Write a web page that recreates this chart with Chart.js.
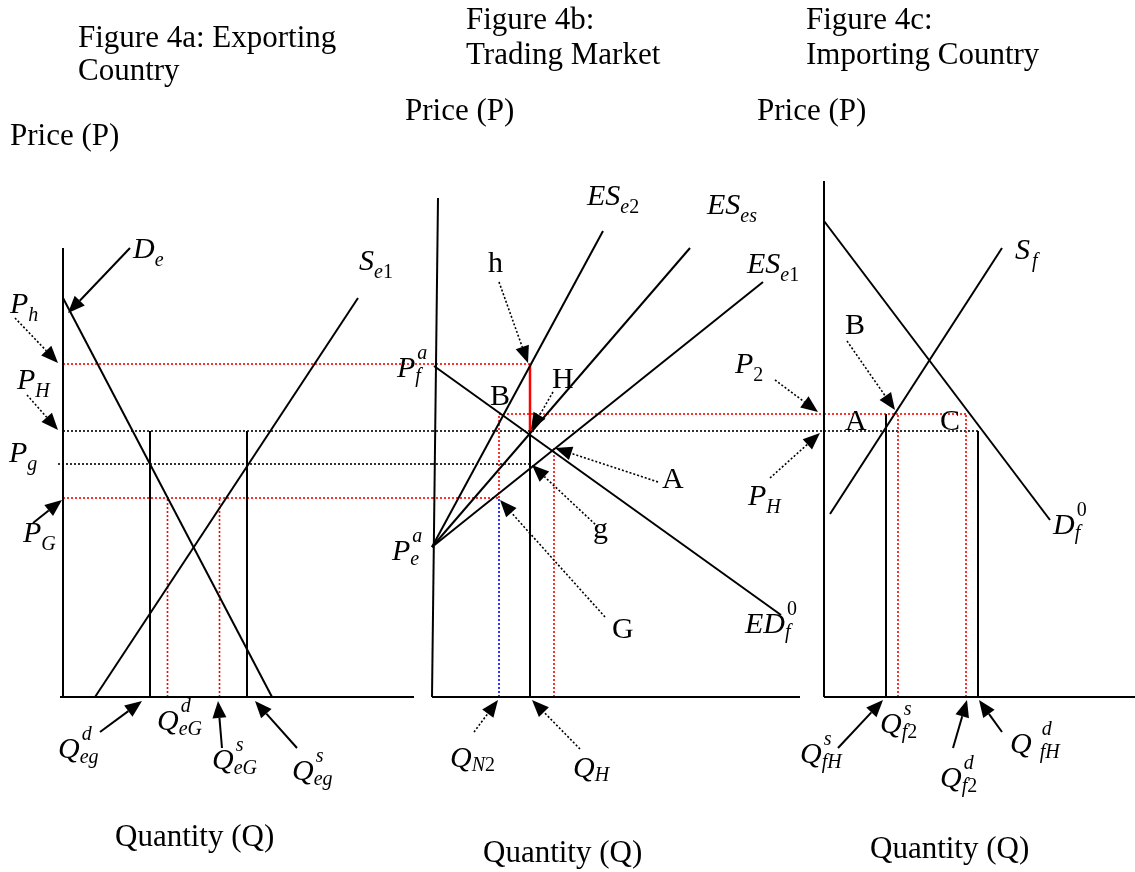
<!DOCTYPE html>
<html>
<head>
<meta charset="utf-8">
<script src="https://cdn.jsdelivr.net/npm/chart.js@4.4.1/dist/chart.umd.min.js"></script>
<style>
  html, body { margin: 0; padding: 0; background: #fff; }
  #wrap { position: relative; width: 1135px; height: 872px; }
  #wrap canvas { position: absolute; left: 0; top: 0; }
</style>
</head>
<body>
<div id="wrap">
  <canvas id="panelA" width="1135" height="872"></canvas>
  <canvas id="panelB" width="1135" height="872"></canvas>
  <canvas id="panelC" width="1135" height="872"></canvas>
</div>
<script>
// price levels, the price axis is shared by all three panels
var P_h = 66.6, P_2 = 56.6, P_H = 53.2, P_g = 46.6, P_G = 39.8, P_ea = 30;
var priceMax = 105;

// Figure 4a: exporting country
var axisA    = [70.2, 89.8];            // x axis length, y axis height
var demandE  = [[0, 79.8], [41.8, 0]];
var supplyE1 = [[6.4, 0], [59, 79.8]];
var qA_PH    = [17.4, 36.8];            // Q_eg^d, Q_eg^s
var qA_PG    = [20.9, 31.3];            // Q_eG^d, Q_eG^s

// Figure 4b: trading market
var axisB = [73.6, [1.2, 99.8]];
var ES_e2 = [[0, P_ea], [34.2, 93.2]];
var ES_es = [[0, P_ea], [51.6, 89.8]];
var ES_e1 = [[0, P_ea], [66.2, 83]];
var ED_f0 = [[0.4, 66.2], [69.8, 16.4]];
var qB    = [13.4, 19.6, 24.4];         // Q_N2, Q_H, point A
var P_A   = 49.8;

// Figure 4c: importing country
var axisC   = [62.2, 103.2];
var demandF = [[0, 95.2], [45.2, 35.4]];
var supplyF = [[1.2, 36.6], [35.6, 89.8]];
var qC_PH   = [12.4, 30.8];             // Q_fH^s, Q_fH^d
var qC_P2   = [14.8, 28.4];             // Q_f2^s, Q_f2^d

// visible x range of each panel (in quantity units)
var xMaxA = 73.8, xMaxB = 78.4, xMaxC = 62;

var BLACK = '#000', RED = '#ff0000', BLUE = '#0000ff';
var DOT = [2, 2];
var FONT = '"Liberation Serif", "Times New Roman", serif';

function line(pts, color, width, dash) {
    return {
        data: pts.map(function(p) { return { x: p[0], y: p[1] }; }),
        showLine: true,
        borderColor: color,
        borderWidth: width,
        borderDash: dash || [],
        pointRadius: 0,
        tension: 0,
        fill: false,
        clip: false
    };
}
function hline(p, q0, q1, color) { return line([[q0, p], [q1, p]], color, 1.6, DOT); }
function vline(q, p0, p1, color, width, dash) { return line([[q, p0], [q, p1]], color, width, dash); }

// texts and arrows are anchored in the panel's own (Q, P) units
function drawSmall(ctx, s, x, y) {
    for (var i = 0; i < s.length; i++) {
        var ch = s[i];
        ctx.font = (/[0-9]/.test(ch) ? '' : 'italic ') + '20px ' + FONT;
        ctx.fillText(ch, x, y);
        x += ctx.measureText(ch).width;
    }
}
function notes(texts, arrows) {
    return {
        id: 'notes',
        afterDatasetsDraw: function(chart) {
            var ctx = chart.ctx, xs = chart.scales.x, ys = chart.scales.y;
            ctx.save();
            ctx.fillStyle = BLACK;
            ctx.strokeStyle = BLACK;
            arrows.forEach(function(a) {
                var x1 = xs.getPixelForValue(a.from[0]), y1 = ys.getPixelForValue(a.from[1]);
                var x2 = xs.getPixelForValue(a.to[0]), y2 = ys.getPixelForValue(a.to[1]);
                var ang = Math.atan2(y2 - y1, x2 - x1);
                var len = 17, half = 7;
                var bx = x2 - len * Math.cos(ang), by = y2 - len * Math.sin(ang);
                ctx.beginPath();
                ctx.setLineDash(a.dot ? DOT : []);
                ctx.lineWidth = a.dot ? 1.6 : 2;
                ctx.moveTo(x1, y1);
                ctx.lineTo(bx, by);
                ctx.stroke();
                ctx.setLineDash([]);
                ctx.beginPath();
                ctx.moveTo(x2, y2);
                ctx.lineTo(bx - half * Math.sin(ang), by + half * Math.cos(ang));
                ctx.lineTo(bx + half * Math.sin(ang), by - half * Math.cos(ang));
                ctx.closePath();
                ctx.fill();
            });
            ctx.textBaseline = 'alphabetic';
            texts.forEach(function(t) {
                var x = xs.getPixelForValue(t.q), y = ys.getPixelForValue(t.p);
                var upright = t.it === false;
                ctx.font = (upright ? '' : 'italic ') + (t.size || 30) + 'px ' + FONT;
                ctx.fillText(t.t, x, y);
                var w = ctx.measureText(t.t).width + (t.gap || 0);
                if (t.sub) drawSmall(ctx, t.sub, x + w, y + (t.subDy || (t.sup ? 5 : 8)));
                if (t.sup) drawSmall(ctx, t.sup, x + w + 2, y - 18);
            });
            ctx.restore();
        }
    };
}

function makePanel(id, pad, xMax, datasets, texts, arrows) {
    return new Chart(document.getElementById(id), {
        type: 'scatter',
        data: { datasets: datasets },
        options: {
            responsive: false,
            animation: false,
            events: [],
            layout: { padding: pad },
            plugins: { legend: { display: false }, tooltip: { enabled: false } },
            scales: {
                x: { type: 'linear', min: 0, max: xMax, display: false },
                y: { type: 'linear', min: 0, max: priceMax, display: false }
            }
        },
        plugins: [notes(texts, arrows)]
    });
}

// Panel a
makePanel('panelA', { left: 63, right: 703, top: 172, bottom: 175 }, xMaxA, [
    line([[0, 0], [0, axisA[1]]], BLACK, 2),
    line([[-0.6, 0], [axisA[0], 0]], BLACK, 2),
    line(demandE, BLACK, 2),
    line(supplyE1, BLACK, 2),
    vline(qA_PH[0], 0, P_H, BLACK, 2),
    vline(qA_PH[1], 0, P_H, BLACK, 2),
    vline(qA_PG[0], 0, P_G, RED, 1.6, DOT),
    vline(qA_PG[1], 0, P_G, RED, 1.6, DOT),
    hline(P_h, 0, xMaxA, RED),
    hline(P_H, 0, xMaxA, BLACK),
    hline(P_g, -1, xMaxA, BLACK),
    hline(P_G, 0, xMaxA, RED)
], [
    { t: 'Figure 4a: Exporting', q: 3, p: 130, it: false, size: 31 },
    { t: 'Country', q: 3, p: 123.4, it: false, size: 31 },
    { t: 'Price (P)', q: -10.6, p: 110.4, it: false, size: 31 },
    { t: 'Quantity (Q)', q: 10.4, p: -29.8, it: false, size: 31 },
    { t: 'D', sub: 'e', q: 14, p: 87.8 },
    { t: 'S', sub: 'e1', q: 59.2, p: 85.4 },
    { t: 'P', sub: 'h', q: -10.6, p: 76.8 },
    { t: 'P', sub: 'H', q: -9.2, p: 61.6 },
    { t: 'P', sub: 'g', q: -10.8, p: 47 },
    { t: 'P', sub: 'G', q: -8, p: 31 },
    { t: 'Q', sub: 'eg', sup: 'd', q: -1, p: -12.2 },
    { t: 'Q', sub: 'eG', sup: 'd', q: 18.8, p: -6.6 },
    { t: 'Q', sub: 'eG', sup: 's', q: 29.8, p: -14.4 },
    { t: 'Q', sub: 'eg', sup: 's', q: 45.8, p: -16.6 }
], [
    { from: [13.4, 89.8], to: [1.0, 76.8] },
    { from: [-9.6, 75.8], to: [-1, 66.8], dot: true },
    { from: [-7.2, 60.4], to: [-1, 53.4], dot: true },
    { from: [-6, 34.8], to: [-0.2, 39.4] },
    { from: [7.4, -7], to: [15.8, -0.8] },
    { from: [31.8, -10.2], to: [31, -0.8] },
    { from: [46.8, -10.2], to: [38.4, -0.8] }
]);

// Panel b
makePanel('panelB', { left: 432, right: 311, top: 172, bottom: 175 }, xMaxB, [
    line([[0, 0], axisB[1]], BLACK, 2),
    line([[0, 0], [axisB[0], 0]], BLACK, 2),
    line(ES_e2, BLACK, 2),
    line(ES_es, BLACK, 2),
    line(ES_e1, BLACK, 2),
    line(ED_f0, BLACK, 2),
    hline(P_h, 0, qB[1], RED),
    hline(P_2, qB[0], xMaxB, RED),
    hline(P_H, 0, xMaxB, BLACK),
    hline(P_g, 0, qB[1], BLACK),
    hline(P_G, 0, qB[0], RED),
    vline(qB[1], P_H, P_h, RED, 2.5),
    vline(qB[1], 0, P_H, BLACK, 2),
    vline(qB[2], 0, P_A, RED, 1.6, DOT),
    vline(qB[0], P_G, P_2, RED, 1.6, DOT),
    vline(qB[0], 0, P_G, BLUE, 1.6, DOT)
], [
    { t: 'Figure 4b:', q: 6.8, p: 133.6, it: false, size: 31 },
    { t: 'Trading Market', q: 6.8, p: 126.6, it: false, size: 31 },
    { t: 'Price (P)', q: -5.4, p: 115.4, it: false, size: 31 },
    { t: 'Quantity (Q)', q: 10.2, p: -33, it: false, size: 31 },
    { t: 'P', sub: 'f', sup: 'a', q: -7, p: 64 },
    { t: 'P', sub: 'e', sup: 'a', q: -8, p: 27.4 },
    { t: 'ES', sub: 'e2', q: 31, p: 98.4 },
    { t: 'ES', sub: 'es', q: 55, p: 96.6 },
    { t: 'ES', sub: 'e1', q: 63, p: 84.8 },
    { t: 'ED', sub: 'f', sup: '0', q: 62.6, p: 12.8 },
    { t: 'h', q: 11.2, p: 85, it: false },
    { t: 'B', q: 11.6, p: 58.4, it: false },
    { t: 'H', q: 24, p: 61.8, it: false },
    { t: 'A', q: 46, p: 41.8, it: false },
    { t: 'g', q: 32.2, p: 31.8, it: false },
    { t: 'G', q: 36, p: 11.8, it: false },
    { t: 'Q', sub: 'N2', q: 3.6, p: -14, subDy: 4 },
    { t: 'Q', sub: 'H', q: 28.2, p: -16, subDy: 4 }
], [
    { from: [13.4, 83], to: [19.2, 66.8], dot: true },
    { from: [24.2, 61], to: [19.8, 53.4], dot: true },
    { from: [45.2, 43], to: [24.6, 49.8], dot: true },
    { from: [33.2, 34], to: [20, 46.4], dot: true },
    { from: [34.6, 16], to: [13.6, 39.4], dot: true },
    { from: [8.4, -7], to: [13.2, -0.6], dot: true },
    { from: [29.6, -10.4], to: [20, -0.6], dot: true }
]);

// Panel c
makePanel('panelC', { left: 824, right: 1, top: 172, bottom: 175 }, xMaxC, [
    line([[0, 0], [0, axisC[1]]], BLACK, 2),
    line([[0, 0], [axisC[0], 0]], BLACK, 2),
    line(demandF, BLACK, 2),
    line(supplyF, BLACK, 2),
    vline(qC_PH[0], 0, P_2, BLACK, 2),
    vline(qC_PH[1], 0, P_H, BLACK, 2),
    vline(qC_P2[0], 0, P_2, RED, 1.6, DOT),
    vline(qC_P2[1], 0, P_2, RED, 1.6, DOT),
    hline(P_2, 0, qC_P2[1], RED),
    hline(P_H, 0, qC_PH[1], BLACK)
], [
    { t: 'Figure 4c:', q: -3.6, p: 133.6, it: false, size: 31 },
    { t: 'Importing Country', q: -3.6, p: 126.6, it: false, size: 31 },
    { t: 'Price (P)', q: -13.4, p: 115.4, it: false, size: 31 },
    { t: 'Quantity (Q)', q: 9.2, p: -32.2, it: false, size: 31 },
    { t: 'S', sub: 'f', q: 38.2, p: 87.6, gap: 2 },
    { t: 'D', sub: 'f', sup: '0', q: 45.8, p: 32.6 },
    { t: 'P', sub: '2', q: -17.8, p: 64.8 },
    { t: 'P', sub: 'H', q: -15.2, p: 38.4 },
    { t: 'B', q: 4.2, p: 72.6, it: false },
    { t: 'A', q: 4.2, p: 53.4, it: false },
    { t: 'C', q: 23.2, p: 53.4, it: false },
    { t: 'Q', sub: 'fH', sup: 's', q: -4.8, p: -13.2 },
    { t: 'Q', sub: 'f2', sup: 's', q: 11.2, p: -7.2 },
    { t: 'Q', sub: 'f2', sup: 'd', q: 23.2, p: -18 },
    { t: 'Q', sub: 'fH', sup: 'd', q: 37.2, p: -11.2, gap: 8 }
], [
    { from: [4.6, 71.2], to: [14.2, 57.4], dot: true },
    { from: [-9.8, 63.4], to: [-1.2, 57], dot: true },
    { from: [-10.8, 43.8], to: [-0.8, 52.8], dot: true },
    { from: [2.8, -10.2], to: [11.8, -0.6] },
    { from: [25.8, -10.2], to: [28.6, -0.6] },
    { from: [35.6, -7], to: [31, -0.6] }
]);
</script>
</body>
</html>
